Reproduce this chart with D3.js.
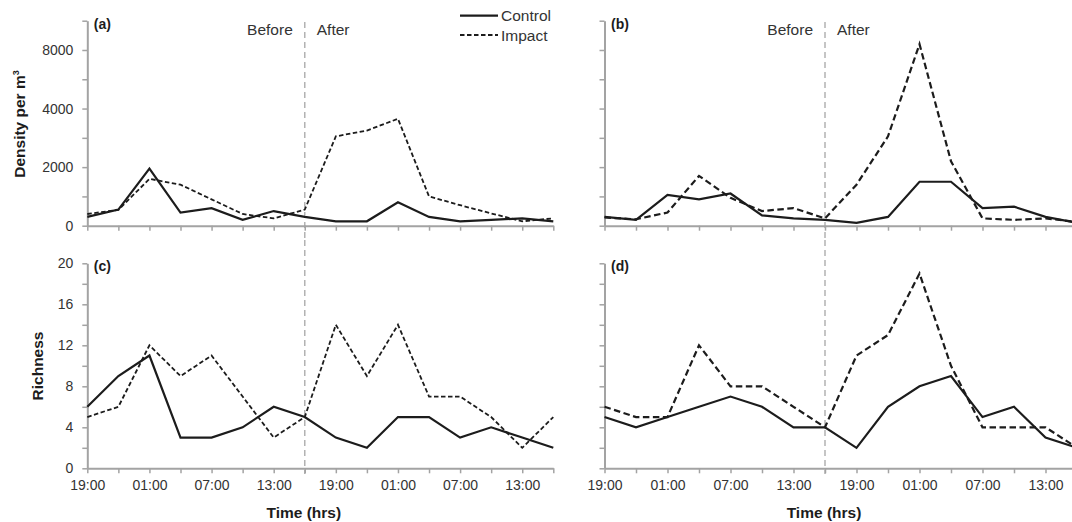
<!DOCTYPE html>
<html>
<head>
<meta charset="utf-8">
<script src="https://cdn.jsdelivr.net/npm/d3@7"></script>
<style>
  body { margin: 0; background: #fff; }
  svg { font-family: "Liberation Sans", Arial, sans-serif; }
</style>
</head>
<body>
<div id="chart"></div>
<script>
  const width = 1072, height = 522;

  // sampling times, every 3 hours over two days
  const times = ["19:00", "22:00", "01:00", "04:00", "07:00", "10:00", "13:00", "16:00",
                 "19:00", "22:00", "01:00", "04:00", "07:00", "10:00", "13:00", "16:00"];
  const impactStart = 7; // index of the Before / After split

  // density per m3
  const densityControlA = [300, 550, 1950, 450, 600, 200, 500, 300, 150, 150, 800, 300, 150, 200, 250, 150];
  const densityImpactA  = [400, 540, 1600, 1400, 900, 400, 250, 550, 3050, 3250, 3650, 1000, 700, 420, 150, 250];
  const densityControlB = [300, 200, 1050, 900, 1100, 350, 250, 200, 100, 300, 1500, 1500, 600, 650, 300, 100];
  const densityImpactB  = [280, 220, 450, 1700, 950, 500, 600, 250, 1400, 3050, 8400, 2200, 250, 200, 250, 130];

  // richness
  const richnessControlC = [6, 9, 11, 3, 3, 4, 6, 5, 3, 2, 5, 5, 3, 4, 3, 2];
  const richnessImpactC  = [5, 6, 12, 9, 11, 7, 3, 5, 14, 9, 14, 7, 7, 5, 2, 5];
  const richnessControlD = [5, 4, 5, 6, 7, 6, 4, 4, 2, 6, 8, 9, 5, 6, 3, 2];
  const richnessImpactD  = [6, 5, 5, 12, 8, 8, 6, 4, 11, 13, 19, 10, 4, 4, 4, 2];

  const densityTicks = [0, 1000, 2000, 3000, 4000, 6000, 8000, 10000];
  const densityTickLabels = [0, 2000, 4000, 8000];
  const richnessTicks = [0, 2, 4, 6, 8, 10, 12, 14, 16, 18, 20];
  const richnessTickLabels = [0, 4, 8, 12, 16, 20];

  const svg = d3.select('#chart')
    .append('svg')
    .attr('width', width)
    .attr('height', height);

  const axisGrey = '#a3a3a3', ink = '#1c1c1c', textCol = '#333';

  const panels = [
    { tag: '(a)', left: 87.3, right: 553.3, top: 20.7, bottom: 225.7, kind: 'density',
      control: densityControlA, impact: densityImpactA, yLabels: true, xLabels: false, dash: '4.5,2.5', dw: 1.8 },
    { tag: '(b)', left: 604.5, right: 1077, top: 20.7, bottom: 225.7, kind: 'density',
      control: densityControlB, impact: densityImpactB, yLabels: false, xLabels: false, dash: '6.5,3.5', dw: 2.2 },
    { tag: '(c)', left: 87.3, right: 553.3, top: 263.3, bottom: 468.3, kind: 'richness',
      control: richnessControlC, impact: richnessImpactC, yLabels: true, xLabels: true, dash: '4.5,2.5', dw: 1.8 },
    { tag: '(d)', left: 604.5, right: 1077, top: 263.3, bottom: 468.3, kind: 'richness',
      control: richnessControlD, impact: richnessImpactD, yLabels: false, xLabels: true, dash: '6.5,3.5', dw: 2.2 }
  ];

  panels.forEach(p => {
    const g = svg.append('g');
    const x = d3.scaleLinear().domain([0, times.length - 1]).range([p.left, p.right]);
    let y, ticks, labels;
    if (p.kind === 'density') {
      // axis is compressed above 4000
      y = d3.scaleLinear().domain([0, 4000, 10000])
        .range([p.bottom, p.bottom - (p.bottom - p.top) * 4 / 7, p.top]);
      ticks = densityTicks; labels = densityTickLabels;
    } else {
      y = d3.scaleLinear().domain([0, 20]).range([p.bottom, p.top]);
      ticks = richnessTicks; labels = richnessTickLabels;
    }

    // before / after divider
    const xs = x(impactStart);
    g.append('line')
      .attr('x1', xs).attr('x2', xs)
      .attr('y1', p.kind === 'density' ? 22 : 240)
      .attr('y2', p.kind === 'density' ? 240 : 474)
      .attr('stroke', '#b3b3b3').attr('stroke-width', 1.5)
      .attr('stroke-dasharray', '6,4');

    const yAxis = d3.axisLeft(y).tickValues(ticks).tickSize(5).tickSizeOuter(0).tickPadding(9)
      .tickFormat(v => (p.yLabels && labels.includes(v)) ? v : '');
    const xAxis = d3.axisBottom(x).tickValues(d3.range(times.length)).tickSize(5).tickSizeOuter(0).tickPadding(7)
      .tickFormat(i => (p.xLabels && i % 2 === 0) ? times[i] : '');

    [g.append('g').attr('transform', `translate(${p.left},0)`).call(yAxis),
     g.append('g').attr('transform', `translate(0,${p.bottom})`).call(xAxis)].forEach(a => {
      a.select('.domain').attr('stroke', axisGrey).attr('stroke-width', 2);
      a.selectAll('.tick line').attr('stroke', axisGrey).attr('stroke-width', 1.5);
      a.selectAll('.tick text').attr('fill', textCol).style('font-size', '14px');
    });

    const line = d3.line().x((d, i) => x(i)).y(d => y(d));
    g.append('path').datum(p.control).attr('d', line)
      .attr('fill', 'none').attr('stroke', ink).attr('stroke-width', 2.2)
      .attr('stroke-linejoin', 'miter');
    g.append('path').datum(p.impact).attr('d', line)
      .attr('fill', 'none').attr('stroke', ink).attr('stroke-width', p.dw)
      .attr('stroke-dasharray', p.dash);

    g.append('text').attr('x', p.left + 6.5).attr('y', p.top + 8)
      .attr('fill', ink).style('font-size', '14px').style('font-weight', 'bold')
      .text(p.tag);

    if (p.kind === 'density') {
      g.append('text').attr('x', xs - 12).attr('y', 35).attr('text-anchor', 'end')
        .attr('fill', textCol).style('font-size', '15.5px').text('Before');
      g.append('text').attr('x', xs + 12).attr('y', 35)
        .attr('fill', textCol).style('font-size', '15.5px').text('After');
    } else {
      g.append('text').attr('x', xs - 1).attr('y', 518).attr('text-anchor', 'middle')
        .attr('fill', ink).style('font-size', '15.5px').style('font-weight', 'bold')
        .text('Time (hrs)');
    }
  });

  // y axis titles
  const dens = svg.append('text')
    .attr('transform', 'translate(25,124) rotate(-90)')
    .attr('text-anchor', 'middle')
    .attr('fill', ink).style('font-size', '15.5px').style('font-weight', 'bold');
  dens.append('tspan').text('Density per m');
  dens.append('tspan').attr('dy', -6).style('font-size', '9px').text('3');

  svg.append('text')
    .attr('transform', 'translate(43,366) rotate(-90)')
    .attr('text-anchor', 'middle')
    .attr('fill', ink).style('font-size', '15.5px').style('font-weight', 'bold')
    .text('Richness');

  // legend
  const legend = svg.append('g');
  [['Control', null, 15.7], ['Impact', '4.5,2.5', 35]].forEach(([name, dash, ly]) => {
    legend.append('line').attr('x1', 460).attr('x2', 498).attr('y1', ly).attr('y2', ly)
      .attr('stroke', ink).attr('stroke-width', dash ? 1.8 : 2.2)
      .attr('stroke-dasharray', dash);
    legend.append('text').attr('x', 501).attr('y', ly + 5.5)
      .attr('fill', textCol).style('font-size', '15.5px').text(name);
  });
</script>
</body>
</html>
